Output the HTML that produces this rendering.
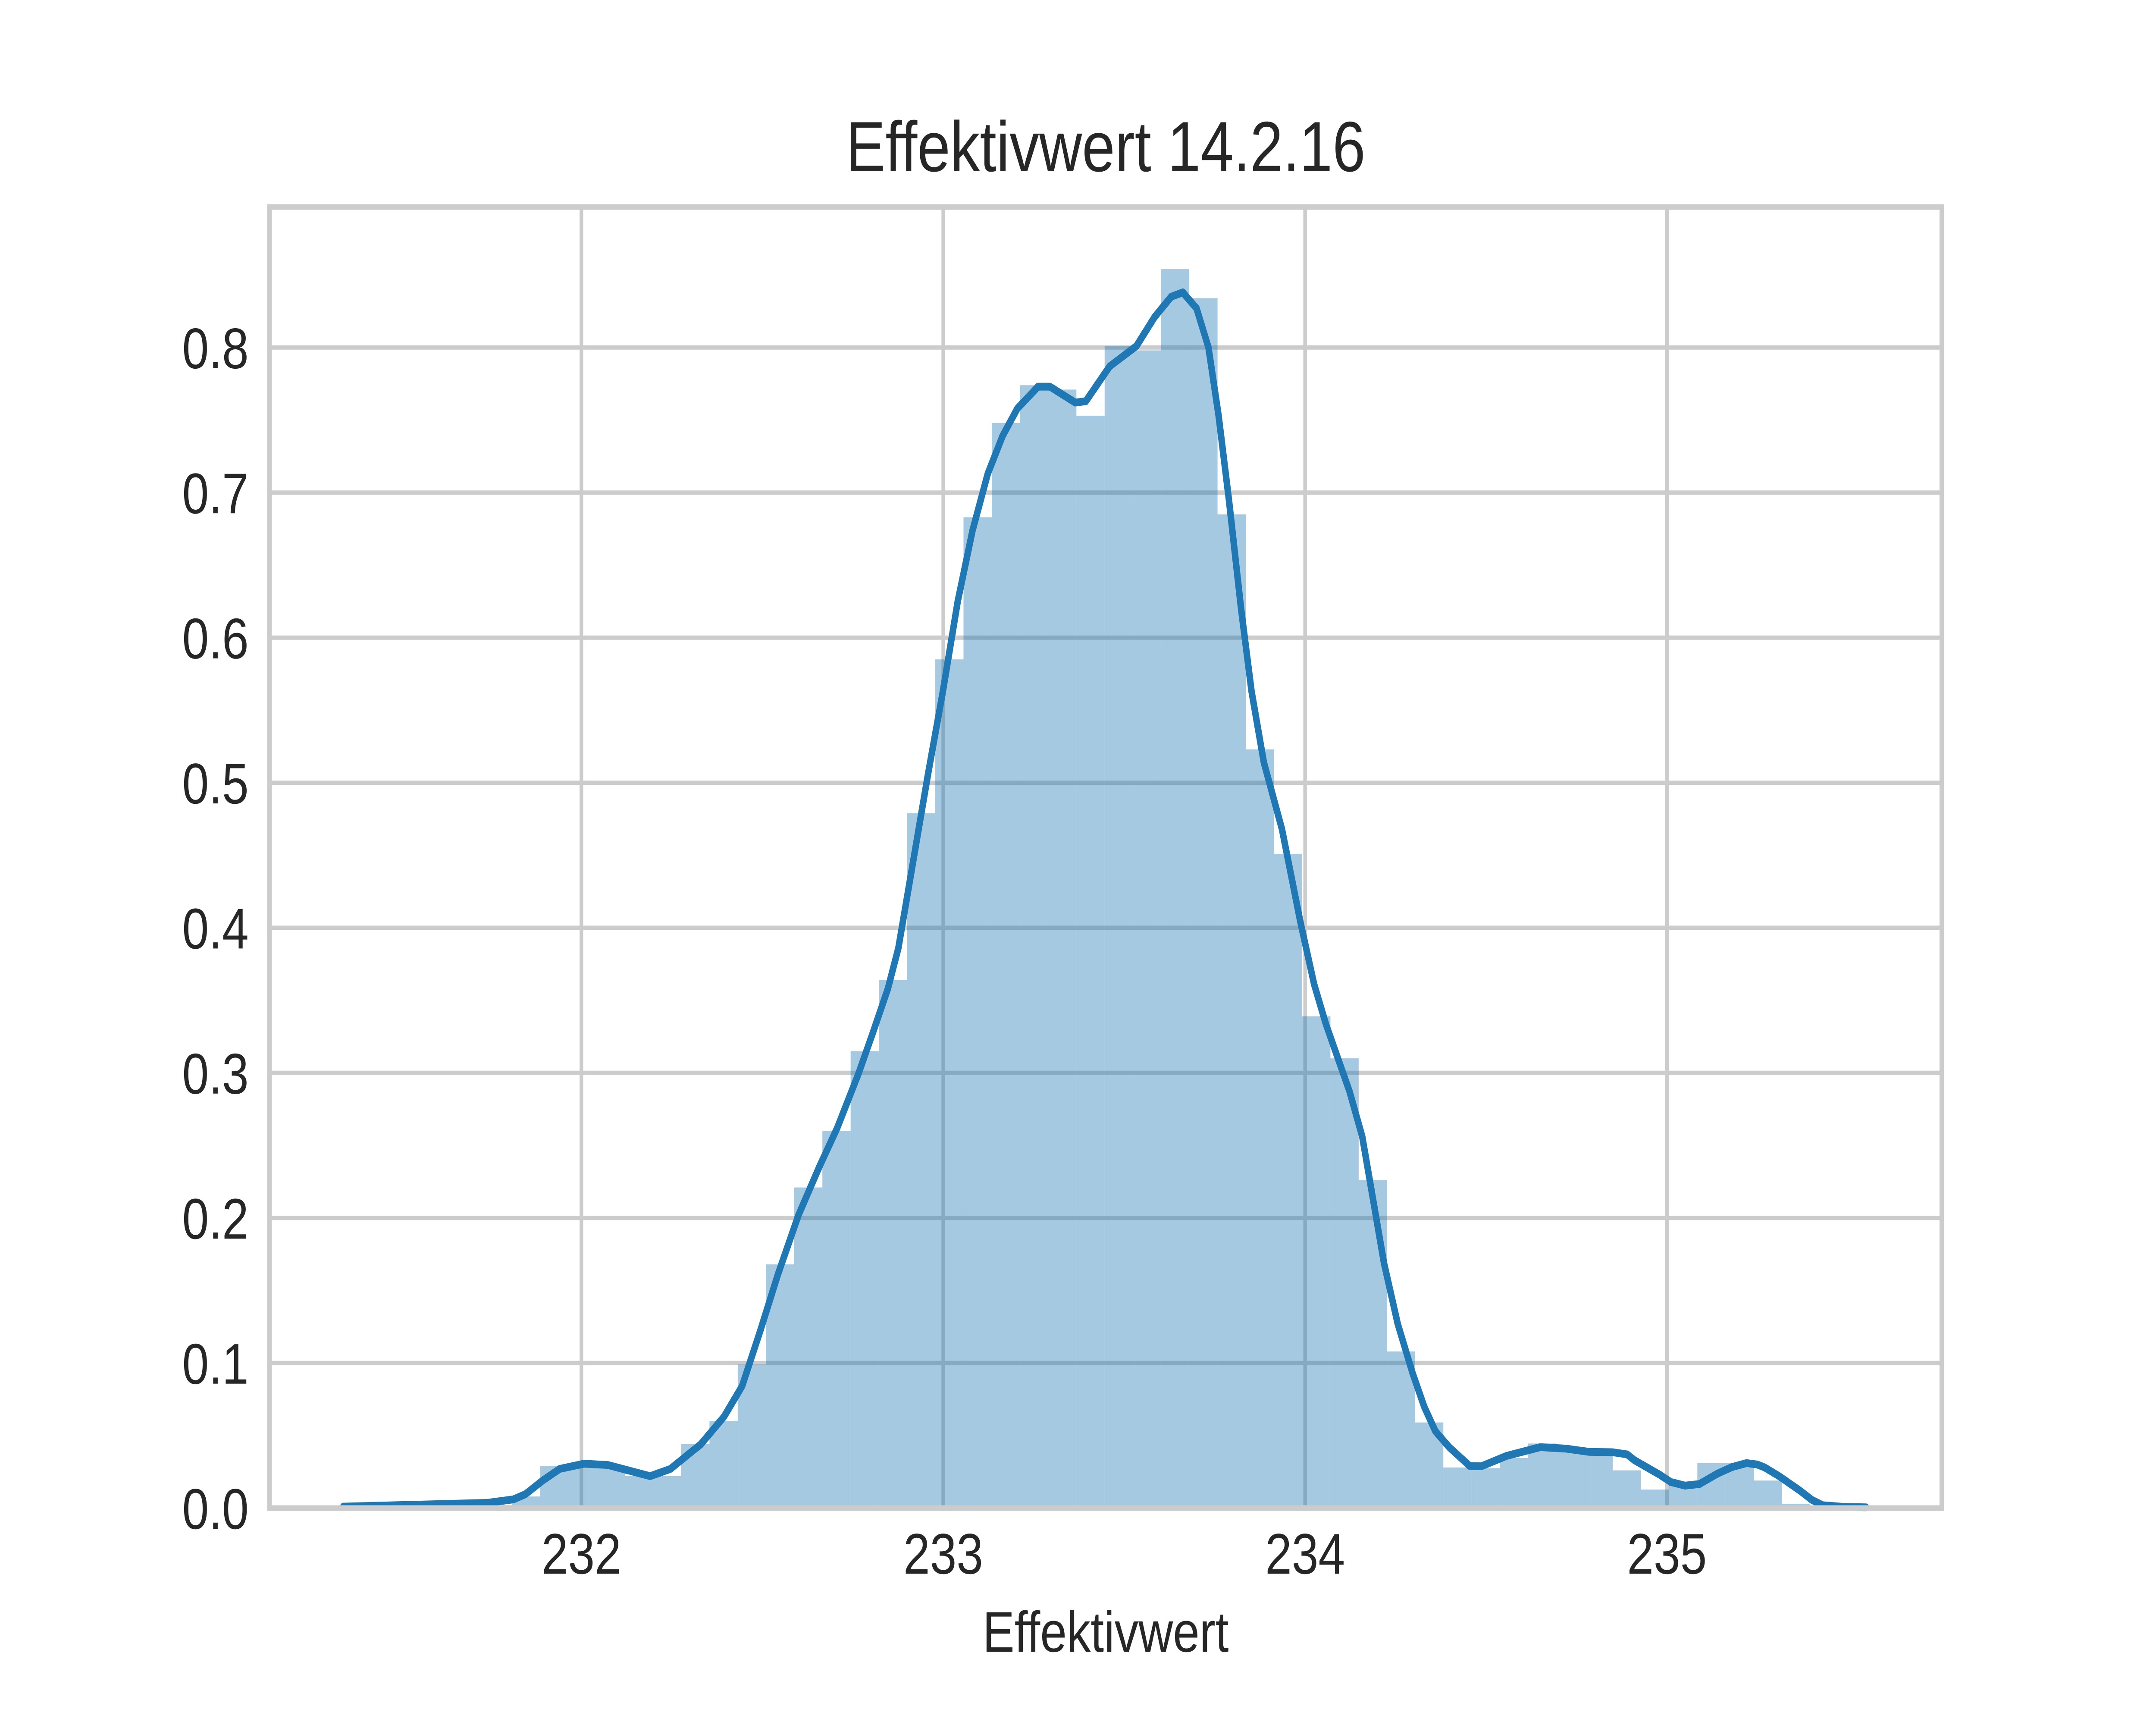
<!DOCTYPE html>
<html><head><meta charset="utf-8"><style>
html,body{margin:0;padding:0;background:#fff;overflow:hidden;width:100vw;height:100vh;}
svg{display:block;width:100vw;height:100vh;font-family:"Liberation Sans",Arial,sans-serif;}
</style></head><body>
<svg id="chart" viewBox="0 0 6000 4000" preserveAspectRatio="none" xmlns="http://www.w3.org/2000/svg">
<rect width="6000" height="4000" fill="#fff"/>
<g id="grid"></g>
<g id="bars"></g>
<path id="kde" fill="none" stroke="#1f77b4" stroke-width="18" stroke-linejoin="round" stroke-linecap="round"/>
<rect x="750" y="480" width="4654" height="3017" fill="none" stroke="#cccccc" stroke-width="13"/>
<g id="ticks" fill="#262626" font-size="133"></g>
<text x="3077" y="397" text-anchor="middle" font-size="165" fill="#262626">Effektivwert 14.2.16</text>
<text x="3077" y="3830" text-anchor="middle" font-size="133" fill="#262626">Effektivwert</text>
</svg>
<script>
const binStart = 231.34;
const binWidth = 0.078;
const binHeights = [0.001,0.001,0.001,0.002,0.002,0.002,0.008,0.029,0.029,0.029,0.022,0.022,0.044,0.060,0.099,0.168,0.221,0.260,0.315,0.364,0.479,0.585,0.683,0.748,0.774,0.771,0.753,0.801,0.798,0.854,0.834,0.685,0.523,0.451,0.339,0.310,0.226,0.108,0.059,0.028,0.0275,0.0345,0.0445,0.041,0.041,0.026,0.0128,0.016,0.031,0.031,0.019,0.003,0.001,0.001];
const kdeX = [231.342,231.74,231.812,231.845,231.893,231.94,232.007,232.073,232.19,232.246,232.33,232.394,232.444,232.494,232.543,232.6,232.657,232.707,232.765,232.806,232.847,232.876,232.958,232.999,233.04,233.081,233.123,233.164,233.205,233.262,233.295,233.365,233.394,233.46,233.534,233.584,233.63,233.662,233.70,233.733,233.761,233.79,233.823,233.852,233.886,233.936,233.987,234.025,234.057,234.123,234.158,234.218,234.256,234.297,234.329,234.36,234.398,234.455,234.487,234.557,234.65,234.72,234.786,234.85,234.89,234.91,234.98,235.01,235.05,235.09,235.14,235.18,235.22,235.25,235.27,235.31,235.37,235.40,235.43,235.49,235.55];
const kdeY = [0.001,0.0036,0.006,0.0095,0.019,0.027,0.0306,0.0297,0.022,0.027,0.044,0.063,0.084,0.122,0.161,0.202,0.235,0.262,0.299,0.328,0.358,0.386,0.506,0.563,0.625,0.674,0.713,0.739,0.758,0.773,0.773,0.762,0.763,0.787,0.801,0.821,0.835,0.838,0.827,0.80,0.753,0.694,0.62,0.563,0.514,0.468,0.404,0.361,0.334,0.287,0.256,0.169,0.127,0.093,0.070,0.053,0.042,0.029,0.0288,0.036,0.042,0.041,0.0387,0.0385,0.037,0.033,0.023,0.018,0.0155,0.0166,0.0238,0.0283,0.031,0.030,0.028,0.022,0.0116,0.0057,0.002,0.0008,0.0005];
const xTicks = [232,233,234,235];
const xTickLabels = ["232","233","234","235"];
const yTicks = [0,0.1,0.2,0.3,0.4,0.5,0.6,0.7,0.8];
const yTickLabels = ["0.0","0.1","0.2","0.3","0.4","0.5","0.6","0.7","0.8"];

const NS = "http://www.w3.org/2000/svg";
const X = v => 1618 + (v - 232) * 1007;
const Y = v => 3497 - v * 3364;

const grid = document.getElementById('grid');
yTicks.forEach(t => {
  const l = document.createElementNS(NS,'line');
  l.setAttribute('x1',750); l.setAttribute('x2',5404);
  l.setAttribute('y1',Y(t)); l.setAttribute('y2',Y(t));
  l.setAttribute('stroke','#cccccc'); l.setAttribute('stroke-width','10');
  
  
  grid.appendChild(l);
});
xTicks.forEach(t => {
  const l = document.createElementNS(NS,'line');
  l.setAttribute('x1',X(t)); l.setAttribute('x2',X(t));
  l.setAttribute('y1',480); l.setAttribute('y2',3497);
  l.setAttribute('stroke','#cccccc'); l.setAttribute('stroke-width','10');
  
  
  grid.appendChild(l);
});

const bars = document.getElementById('bars');
binHeights.forEach((h, i) => {
  const x0 = X(binStart + i * binWidth), x1 = X(binStart + (i + 1) * binWidth);
  const r = document.createElementNS(NS,'rect');
  r.setAttribute('x', x0); r.setAttribute('width', x1 - x0);
  r.setAttribute('y', Y(h)); r.setAttribute('height', Y(0) - Y(h));
  r.setAttribute('fill', '#1f77b4'); r.setAttribute('fill-opacity', '0.4');
  
  
  bars.appendChild(r);
});

document.getElementById('kde').setAttribute('d',
  kdeX.map((x, i) => (i ? 'L' : 'M') + X(x).toFixed(1) + ' ' + Y(kdeY[i]).toFixed(1)).join(' '));

const ticks = document.getElementById('ticks');
xTicks.forEach((t, i) => {
  const tx = document.createElementNS(NS,'text');
  tx.setAttribute('x', X(t)); tx.setAttribute('y', 3649);
  tx.setAttribute('text-anchor','middle');
  tx.textContent = xTickLabels[i];
  
  
  ticks.appendChild(tx);
});
yTicks.forEach((t, i) => {
  const tx = document.createElementNS(NS,'text');
  tx.setAttribute('x', 692); tx.setAttribute('y', Y(t) + 48);
  tx.setAttribute('text-anchor','end');
  tx.textContent = yTickLabels[i];
  
  
  ticks.appendChild(tx);
});
</script>
</body></html>
